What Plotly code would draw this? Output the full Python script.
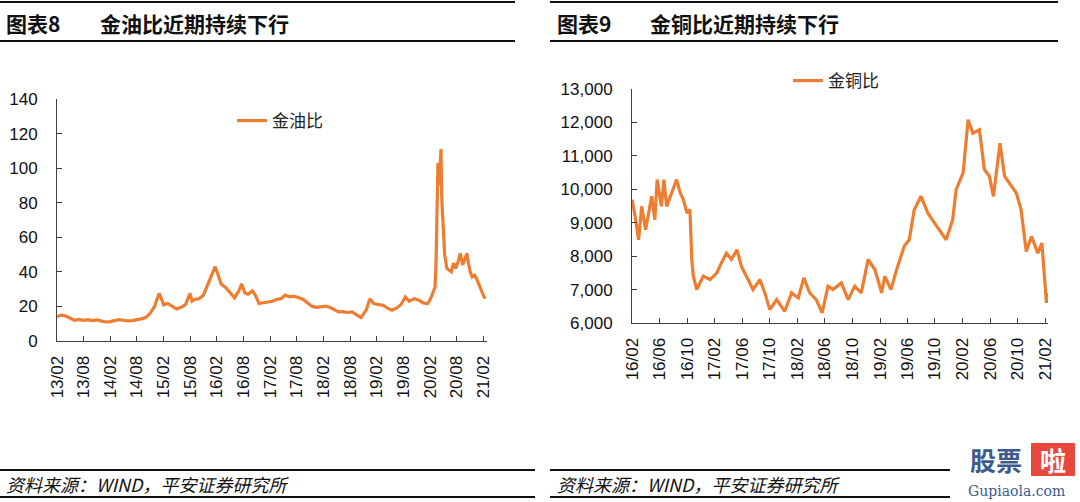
import plotly.graph_objects as go

# 金油比 (gold / oil ratio)
oil_dates = [
    "2013-02-01", "2013-03-01", "2013-04-01", "2013-05-01", "2013-06-01", "2013-07-01",
    "2013-08-01", "2013-09-01", "2013-10-01", "2013-11-01", "2013-12-01", "2014-01-01",
    "2014-02-01", "2014-03-01", "2014-04-01", "2014-05-01", "2014-06-01", "2014-07-01",
    "2014-08-01", "2014-09-01", "2014-10-01", "2014-11-01", "2014-12-01", "2015-01-01",
    "2015-01-15", "2015-02-01", "2015-03-01", "2015-04-01", "2015-05-01", "2015-06-01",
    "2015-07-01", "2015-08-01", "2015-08-15", "2015-09-01", "2015-10-01", "2015-11-01",
    "2015-12-01", "2016-01-01", "2016-01-20", "2016-02-10", "2016-03-01", "2016-04-01",
    "2016-05-01", "2016-06-01", "2016-07-01", "2016-07-20", "2016-08-10", "2016-09-01",
    "2016-10-01", "2016-10-25", "2016-11-15", "2016-12-15", "2017-01-15", "2017-02-15",
    "2017-03-15", "2017-04-15", "2017-05-15", "2017-06-15", "2017-07-15", "2017-08-15",
    "2017-09-15", "2017-10-15", "2017-11-15", "2017-12-15", "2018-01-15", "2018-02-15",
    "2018-03-15", "2018-04-15", "2018-05-15", "2018-06-15", "2018-07-15", "2018-08-15",
    "2018-09-15", "2018-10-15", "2018-11-01", "2018-11-20", "2018-12-15", "2019-01-10",
    "2019-02-15", "2019-03-15", "2019-04-15", "2019-05-15", "2019-06-15", "2019-07-15",
    "2019-08-15", "2019-09-10", "2019-10-15", "2019-11-15", "2019-12-15", "2020-01-15",
    "2020-02-01", "2020-02-20", "2020-03-05", "2020-03-12", "2020-03-18", "2020-03-25",
    "2020-04-01", "2020-04-08", "2020-04-15", "2020-04-20", "2020-04-28", "2020-05-10",
    "2020-05-25", "2020-06-10", "2020-06-25", "2020-07-10", "2020-07-25", "2020-08-10",
    "2020-08-25", "2020-09-10", "2020-09-25", "2020-10-10", "2020-10-20", "2020-11-01",
    "2020-11-15", "2020-12-01", "2020-12-15", "2021-01-01", "2021-01-15", "2021-02-01",
    "2021-02-12",
]
oil_ratio = [
    14, 15, 14.5, 13.5, 12, 12.5,
    12, 12.3, 11.8, 12.2, 11.5, 11,
    11.2, 12, 12.4, 12, 11.6, 11.8,
    12.2, 12.8, 13.5, 16, 20, 27.5,
    25, 21, 21.7, 20, 18.5, 19.5,
    21, 27.5, 23, 24, 24.5, 26.5,
    33, 40, 43, 38, 33, 31,
    28, 25, 29, 33, 28, 27,
    29, 26, 21.7, 22, 22.6, 23,
    24, 24.5, 26.5, 25.5, 26, 25,
    24, 22, 20, 19.5, 19.7, 20.2,
    19.5, 18, 16.8, 17, 16.5, 16.8,
    15, 13.5, 15.5, 18, 24.5, 21.7,
    21, 20.7, 19, 17.8, 19, 21,
    25.5, 23, 24.5, 23.6, 22, 21.7,
    24, 28, 31, 45, 64, 103,
    90, 98, 111, 83, 65, 50,
    42, 41, 40, 45, 42, 46,
    50.7, 44, 47, 50.7, 45, 40,
    37, 38, 36, 32, 29, 26,
    24.5,
]

# 金铜比 (gold / copper ratio)
cu_dates = [
    "2016-02-01", "2016-02-15", "2016-03-01", "2016-03-15", "2016-04-01", "2016-04-13",
    "2016-04-28", "2016-05-12", "2016-05-22", "2016-06-10", "2016-06-21", "2016-07-03",
    "2016-07-25", "2016-08-16", "2016-09-01", "2016-09-15", "2016-10-01", "2016-10-14",
    "2016-10-22", "2016-10-29", "2016-11-13", "2016-12-12", "2017-01-11", "2017-02-10",
    "2017-03-02", "2017-03-24", "2017-04-15", "2017-05-10", "2017-05-29", "2017-06-20",
    "2017-07-20", "2017-08-19", "2017-09-10", "2017-10-02", "2017-11-01", "2017-12-07",
    "2018-01-06", "2018-02-05", "2018-03-01", "2018-03-27", "2018-04-25", "2018-05-21",
    "2018-06-16", "2018-07-08", "2018-08-14", "2018-09-13", "2018-10-12", "2018-11-10",
    "2018-12-10", "2019-01-09", "2019-02-08", "2019-02-22", "2019-03-21", "2019-04-20",
    "2019-05-19", "2019-06-10", "2019-07-02", "2019-08-01", "2019-08-31", "2019-09-30",
    "2019-10-21", "2019-11-20", "2019-12-19", "2020-01-03", "2020-02-03", "2020-02-25",
    "2020-03-17", "2020-04-15", "2020-05-07", "2020-05-29", "2020-06-16", "2020-07-15",
    "2020-08-04", "2020-09-03", "2020-09-25", "2020-10-16", "2020-11-08", "2020-12-01",
    "2020-12-29", "2021-01-16", "2021-01-28", "2021-02-05", "2021-02-10",
]
cu_ratio = [
    9690, 9190, 8490, 9490, 8790, 9190,
    9790, 9090, 10290, 9490, 10290, 9490,
    9890, 10290, 9890, 9690, 9290, 9390,
    7900, 7400, 7000, 7400, 7300, 7500,
    7800, 8090, 7900, 8190, 7700, 7400,
    7000, 7300, 6900, 6400, 6700, 6350,
    6900, 6750, 7350, 6900, 6700, 6300,
    7100, 7000, 7200, 6700, 7100, 6900,
    7900, 7600, 6900, 7400, 7000, 7700,
    8300, 8490, 9390, 9790, 9290, 8990,
    8790, 8490, 9090, 9990, 10490, 12080,
    11680, 11780, 10590, 10390, 9790, 11380,
    10390, 10090, 9890, 9390, 8140, 8590,
    8090, 8390, 7400, 6600, 6900,
]

W, H = 1080, 502
ORANGE = "#ED7D31"
AXIS = "#404040"
NUM_FONT = "Liberation Sans, Arial, sans-serif"
CJK_FONT = "Noto Sans CJK SC, sans-serif"


def px(x):
    return x / W


def py(y):
    return 1 - y / H


fig = go.Figure()
fig.add_trace(go.Scatter(x=oil_dates, y=oil_ratio, mode="lines", name="金油比",
                         line=dict(color=ORANGE, width=3.2), xaxis="x", yaxis="y",
                         legend="legend", showlegend=True))
fig.add_trace(go.Scatter(x=cu_dates, y=cu_ratio, mode="lines", name="金铜比",
                         line=dict(color=ORANGE, width=3.2), xaxis="x2", yaxis="y2",
                         legend="legend2", showlegend=True))

axis_common = dict(showgrid=False, zeroline=False, showline=True, linecolor=AXIS,
                   linewidth=1, ticks="inside", ticklen=5, tickcolor=AXIS, automargin=False,
                   tickfont=dict(family=NUM_FONT, size=17, color="#111"))

fig.update_layout(
    width=W, height=H,
    margin=dict(l=0, r=0, t=0, b=0, autoexpand=False),
    showlegend=True,
    paper_bgcolor="white", plot_bgcolor="white",
    xaxis=dict(domain=[px(57), px(487)], anchor="y", type="date",
               range=["2013-02-01", "2021-02-24"], tick0="2013-02-01", dtick="M6",
               tickformat="%y/%m", tickangle=-90, ticklabelstandoff=7, **axis_common),
    yaxis=dict(domain=[py(341), py(99)], anchor="x", range=[0, 140], dtick=20,
               ticklabelstandoff=15, **axis_common),
    xaxis2=dict(domain=[px(632), px(1048)], anchor="y2", type="date",
                range=["2016-02-01", "2021-02-12"], tick0="2016-02-01", dtick="M4",
                tickformat="%y/%m", tickangle=-90, ticklabelstandoff=7, **axis_common),
    yaxis2=dict(domain=[py(323), py(89)], anchor="x2", range=[6000, 13000], dtick=1000,
                tickformat=",d", ticklabelstandoff=15, **axis_common),
    legend=dict(x=px(232), y=py(121), xanchor="left", yanchor="middle",
                bgcolor="rgba(0,0,0,0)", font=dict(family=CJK_FONT, size=17, color="#222")),
    legend2=dict(x=px(788), y=py(81), xanchor="left", yanchor="middle",
                 bgcolor="rgba(0,0,0,0)", font=dict(family=CJK_FONT, size=17, color="#222")),
)

# header / footer rules
shapes = []
for x0, x1 in [(0, 515), (550, 1058)]:
    for y in [2, 41]:
        shapes.append(dict(type="line", xref="paper", yref="paper", x0=px(x0), x1=px(x1),
                           y0=py(y), y1=py(y), line=dict(color="#111", width=2)))
for x0, x1 in [(0, 535), (550, 950)]:
    for y in [470, 497]:
        shapes.append(dict(type="line", xref="paper", yref="paper", x0=px(x0), x1=px(x1),
                           y0=py(y), y1=py(y), line=dict(color="#111", width=2)))
# watermark red box behind 啦
shapes.append(dict(type="rect", xref="paper", yref="paper", x0=px(1031), x1=px(1075),
                   y0=py(476), y1=py(443), fillcolor="#E8483C", line=dict(width=0),
                   layer="above"))
fig.update_layout(shapes=shapes)

titles = [(4, "图表8"), (98, "金油比近期持续下行"), (555, "图表9"), (648, "金铜比近期持续下行")]
for x, t in titles:
    fig.add_annotation(x=px(x), y=py(23), xref="paper", yref="paper", text="<b>%s</b>" % t,
                       showarrow=False, xanchor="left", yanchor="middle",
                       font=dict(family=CJK_FONT, size=21, color="#111"))

for x in [4, 555]:
    fig.add_annotation(x=px(x), y=py(484), xref="paper", yref="paper",
                       text="<i>资料来源：WIND，平安证券研究所</i>", showarrow=False,
                       xanchor="left", yanchor="middle",
                       font=dict(family=CJK_FONT, size=18, color="#111"))

# watermark
fig.add_annotation(x=px(996), y=py(459), xref="paper", yref="paper", text="<b>股票</b>",
                   showarrow=False, xanchor="center", yanchor="middle",
                   font=dict(family=CJK_FONT, size=26, color="#3D5A8C"))
fig.add_annotation(x=px(1053), y=py(459), xref="paper", yref="paper", text="<b>啦</b>",
                   showarrow=False, xanchor="center", yanchor="middle",
                   font=dict(family=CJK_FONT, size=26, color="white"))
fig.add_annotation(x=px(1016), y=py(491), xref="paper", yref="paper", text="Gupiaola.com",
                   showarrow=False, xanchor="center", yanchor="middle",
                   font=dict(family="DejaVu Serif, serif", size=14, color="#3D5A8C"))

# drop the page's default body margin so the figure sits at the window origin
fig.write_html("out.html", config={"displayModeBar": False},
               post_script="document.body.style.margin='0';document.body.style.overflow='hidden';")
